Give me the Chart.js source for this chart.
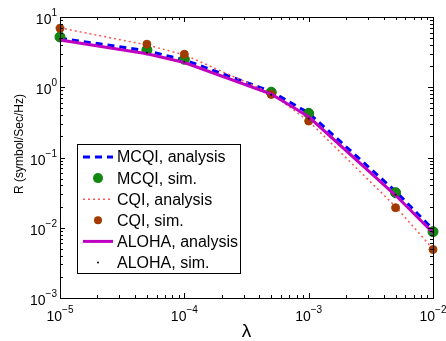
<title>R vs lambda</title>
<script src="https://cdn.jsdelivr.net/npm/chart.js@4/dist/chart.umd.min.js"></script>
<style>
  body { margin: 0; background: #fff; }
  #wrap { width: 446px; height: 341px; }
</style>
<div id="wrap"><canvas id="rChart"></canvas></div>
<script>
const lambdas = [1e-5, 5e-5, 1e-4, 5e-4, 1e-3, 5e-3, 1e-2];
const mcqiAnalysis = [5.0, 3.3, 2.45, 0.87, 0.43, 0.033, 0.0095];
const mcqiSim = [5.2, 3.4, 2.5, 0.85, 0.425, 0.0316, 0.0088];
const cqiAnalysis = [7.0, 4.0, 2.9, 0.82, 0.33, 0.02, 0.005];
const cqiSim = [6.9, 4.1, 2.95, 0.79, 0.33, 0.0193, 0.0049];
const alohaAnalysis = [4.7, 3.0, 2.25, 0.8, 0.38, 0.029, 0.0085];
const alohaSim = [4.9, 3.1, 2.3, 0.78, 0.36, 0.0295, 0.0088];
const xTickExps = [-5, -4, -3, -2];
const yTickExps = [1, 0, -1, -2, -3];
const legendLabels = ["MCQI, analysis", "MCQI, sim.", "CQI, analysis", "CQI, sim.", "ALOHA, analysis", "ALOHA, sim."];

const pts = vals => vals.map((v, i) => ({ x: lambdas[i], y: v }));
const FONT = '"Liberation Sans", Arial, sans-serif';

const datasets = [
  { data: pts(mcqiAnalysis), borderColor: "#0000ff", borderWidth: 3, borderDash: [7, 5], pointRadius: 0, showLine: true },
  { data: pts(mcqiSim), showLine: false, pointRadius: 5, backgroundColor: "#118811", borderColor: "#0b7a0b", borderWidth: 1 },
  { data: pts(cqiAnalysis), borderColor: "#ff5555", borderWidth: 1.5, borderDash: [2, 3], pointRadius: 0, showLine: true },
  { data: pts(cqiSim), showLine: false, pointRadius: 4, backgroundColor: "#a03a00", borderColor: "#a03a00", borderWidth: 1 },
  { data: pts(alohaAnalysis), borderColor: "#c000c0", borderWidth: 3, pointRadius: 0, showLine: true },
  { data: pts(alohaSim), showLine: false, pointRadius: 1, backgroundColor: "#000", borderColor: "#000", borderWidth: 0 }
];
datasets.forEach((d, i) => { d.label = legendLabels[i]; d.order = 6 - i; d.fill = false; d.clip = false; });

function pow10(ctx, x, y, exp, align) {
  ctx.font = "14px " + FONT;
  const base = "10";
  const e = exp < 0 ? "\u2212" + (-exp) : String(exp);
  const bw = ctx.measureText(base).width;
  ctx.font = "10px " + FONT;
  const ew = ctx.measureText(e).width;
  let x0 = x;
  if (align === "right") x0 = x - bw - ew;
  if (align === "center") x0 = x - (bw + ew) / 2;
  ctx.textAlign = "left";
  ctx.textBaseline = "alphabetic";
  ctx.font = "14px " + FONT;
  ctx.fillText(base, x0, y);
  ctx.font = "10px " + FONT;
  ctx.fillText(e, x0 + bw, y - 8);
}

const frame = {
  id: "frame",
  afterDatasetsDraw(chart) {
    const { ctx, chartArea: a, scales } = chart;
    const xs = scales.x, ys = scales.y;
    ctx.save();
    ctx.strokeStyle = "#000";
    ctx.fillStyle = "#000";
    ctx.lineWidth = 1;
    ctx.strokeRect(a.left + 0.5, a.top + 0.5, a.right - a.left, a.bottom - a.top);
    ctx.beginPath();
    for (let e = -5; e <= -2; e++) {
      for (let m = 1; m < 10; m++) {
        const v = m * Math.pow(10, e);
        if (v > 1e-2 * 1.0001) break;
        const px = Math.round(xs.getPixelForValue(v)) + 0.5;
        const len = m === 1 ? 5 : 3;
        ctx.moveTo(px, a.bottom); ctx.lineTo(px, a.bottom - len);
        ctx.moveTo(px, a.top); ctx.lineTo(px, a.top + len);
      }
    }
    for (let e = -3; e <= 1; e++) {
      for (let m = 1; m < 10; m++) {
        const v = m * Math.pow(10, e);
        if (v > 10 * 1.0001) break;
        const py = Math.round(ys.getPixelForValue(v)) + 0.5;
        const len = m === 1 ? 5 : 3;
        ctx.moveTo(a.left, py); ctx.lineTo(a.left + len, py);
        ctx.moveTo(a.right, py); ctx.lineTo(a.right - len, py);
      }
    }
    ctx.stroke();

    xTickExps.forEach(e => pow10(ctx, xs.getPixelForValue(Math.pow(10, e)), a.bottom + 23, e, "center"));
    yTickExps.forEach(e => pow10(ctx, a.left - 3, ys.getPixelForValue(Math.pow(10, e)) + 7, e, "right"));

    ctx.font = "19px " + FONT;
    ctx.textAlign = "center";
    ctx.fillText("\u03bb", (a.left + a.right) / 2, a.bottom + 39);
    ctx.save();
    ctx.translate(20, 144);
    ctx.rotate(-Math.PI / 2);
    ctx.font = "12px " + FONT;
    ctx.textBaseline = "middle";
    ctx.fillText("R (symbol/Sec/Hz)", 0, 0);
    ctx.restore();

    // legend
    const lx = 77, ly = 144, lw = 163, lh = 129;
    ctx.fillStyle = "#fff";
    ctx.fillRect(lx, ly, lw, lh);
    ctx.strokeStyle = "#000";
    ctx.strokeRect(lx + 0.5, ly + 0.5, lw, lh);
    ctx.font = "16px " + FONT;
    ctx.textAlign = "left";
    ctx.textBaseline = "middle";
    datasets.forEach((d, i) => {
      const cy = 157 + i * 21.1;
      ctx.save();
      if (d.showLine) {
        ctx.strokeStyle = d.borderColor;
        ctx.lineWidth = d.borderWidth;
        ctx.setLineDash(d.borderDash || []);
        ctx.beginPath();
        ctx.moveTo(83, cy); ctx.lineTo(113, cy);
        ctx.stroke();
      } else {
        ctx.fillStyle = d.backgroundColor;
        ctx.beginPath();
        ctx.arc(98, cy, d.pointRadius, 0, Math.PI * 2);
        ctx.fill();
      }
      ctx.restore();
      ctx.fillStyle = "#000";
      ctx.fillText(d.label, 117, cy + 1);
    });
    ctx.restore();
  }
};

new Chart(document.getElementById("rChart"), {
  type: "line",
  data: { datasets },
  options: {
    responsive: true,
    maintainAspectRatio: false,
    animation: false,
    layout: { padding: { top: 17, right: 13, left: 0, bottom: 0 } },
    plugins: { legend: { display: false }, tooltip: { enabled: false } },
    scales: {
      x: {
        type: "logarithmic", min: 1e-5, max: 1e-2,
        ticks: { display: false }, grid: { display: false }, border: { display: false },
        afterFit(s) { s.height = 43; }
      },
      y: {
        type: "logarithmic", min: 1e-3, max: 10,
        ticks: { display: false }, grid: { display: false }, border: { display: false },
        afterFit(s) { s.width = 60; }
      }
    }
  },
  plugins: [frame]
});
</script>
